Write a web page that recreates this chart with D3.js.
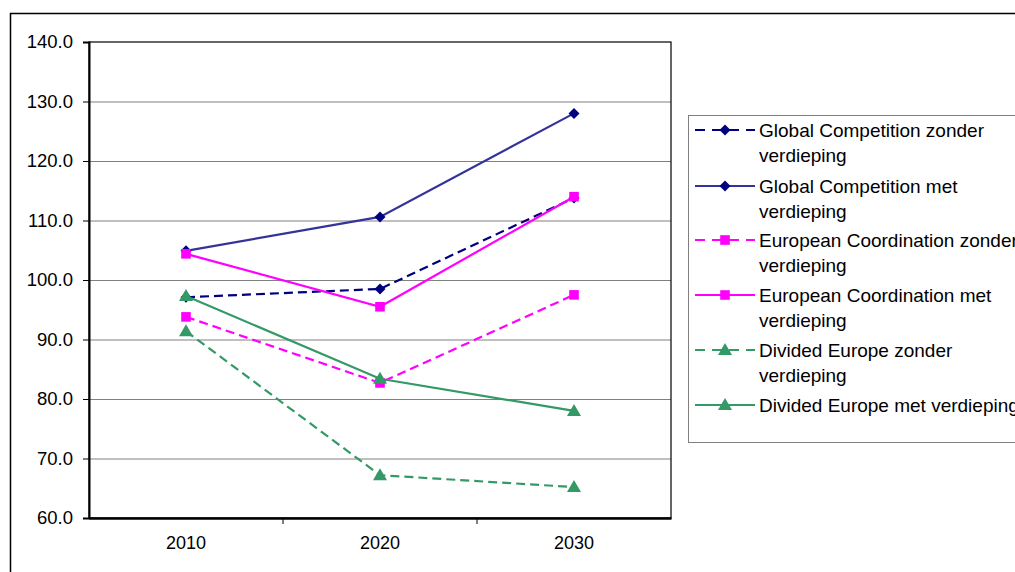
<!DOCTYPE html>
<html><head><meta charset="utf-8">
<script src="https://cdn.jsdelivr.net/npm/d3@7"></script>
<style>body{margin:0;background:#fff}svg{display:block}text{font-family:"Liberation Sans",Arial,sans-serif}</style>
</head><body><svg id="c" width="1015" height="572"></svg>
<script>
const categories = ["2010","2020","2030"];
const yTicks = [60,70,80,90,100,110,120,130,140];
const seriesNames = ["Global Competition zonder verdieping","Global Competition met verdieping","European Coordination zonder verdieping","European Coordination met verdieping","Divided Europe zonder verdieping","Divided Europe met verdieping"];
const legendLines = [["Global Competition zonder","verdieping"],["Global Competition met","verdieping"],["European Coordination zonder","verdieping"],["European Coordination met","verdieping"],["Divided Europe zonder","verdieping"],["Divided Europe met verdieping"]];
const gcZonder = [97.1, 98.5, 113.8];
const gcMet = [104.9, 110.6, 128.0];
const ecZonder = [93.8, 82.7, 97.5];
const ecMet = [104.4, 95.5, 114.0];
const deZonder = [91.4, 67.2, 65.2];
const deMet = [97.3, 83.4, 78.0];
const seriesValues = [gcZonder, gcMet, ecZonder, ecMet, deZonder, deMet];
const lineColors = ["#000080","#333399","#ff00ff","#ff00ff","#339966","#339966"];
const markerColors = ["#000080","#000080","#ff00ff","#ff00ff","#339966","#339966"];
const markers = ["diamond","diamond","square","square","triangle","triangle"];
const dashed = [true,false,true,false,true,false];

const svg = d3.select("#c");
// outer frame
svg.append("rect").attr("x",10.5).attr("y",13.5).attr("width",1100).attr("height",700)
  .attr("fill","none").attr("stroke","#000").attr("stroke-width",1.5);

const L=89,R=671,T=42,B=518;
const x = d3.scaleBand().domain(categories).range([L,R]);
const y = d3.scaleLinear().domain([60,140]).range([B,T]);

// gridlines
svg.append("g").selectAll("line").data(yTicks.filter(t=>t>60&&t<140)).join("line")
  .attr("x1",L).attr("x2",R).attr("y1",d=>y(d)+0.5).attr("y2",d=>y(d)+0.5)
  .attr("stroke","#808080").attr("stroke-width",1);

// plot border
svg.append("rect").attr("x",L).attr("y",T).attr("width",R-L).attr("height",B-T)
  .attr("fill","none").attr("stroke","#000").attr("stroke-width",1.2);

// y axis
const ya = svg.append("g").attr("transform",`translate(${L},0)`)
  .call(d3.axisLeft(y).tickValues(yTicks).tickFormat(d3.format(".1f")).tickSize(6).tickPadding(10));
ya.select(".domain").attr("stroke","#000").attr("stroke-width",2);
ya.selectAll(".tick line").attr("stroke","#000");
ya.selectAll("text").attr("font-size",18.5).attr("fill","#000").style("font-family","Liberation Sans, Arial, sans-serif");

// x axis
const xa = svg.append("g").attr("transform",`translate(0,${B})`)
  .call(d3.axisBottom(x).tickSize(0).tickPadding(18));
xa.select(".domain").attr("stroke","#000").attr("stroke-width",2.5);
xa.selectAll("text").attr("font-size",18).attr("fill","#000").style("font-family","Liberation Sans, Arial, sans-serif");
// category boundary ticks
svg.append("g").selectAll("line").data(categories.slice(1)).join("line")
  .attr("x1",d=>x(d)).attr("x2",d=>x(d)).attr("y1",B).attr("y2",B+6).attr("stroke","#000");

function markerPath(type){
  if(type==="diamond") return "M0,-5.5L5.5,0L0,5.5L-5.5,0Z";
  if(type==="square") return "M-4.8,-4.8H4.8V4.8H-4.8Z";
  return "M0,-7L7,5H-7Z";
}

const line = d3.line().x((d,i)=>x(categories[i])+x.bandwidth()/2).y(d=>y(d));
seriesValues.forEach((vals,si)=>{
  svg.append("path").attr("d",line(vals)).attr("fill","none")
    .attr("stroke",lineColors[si]).attr("stroke-width",2.2)
    .attr("stroke-dasharray",dashed[si]?"9,5":null);
});
seriesValues.forEach((vals,si)=>{
  svg.append("g").selectAll("path").data(vals).join("path")
    .attr("transform",(d,i)=>`translate(${x(categories[i])+x.bandwidth()/2},${y(d)})`)
    .attr("d",markerPath(markers[si]))
    .attr("fill",markerColors[si]);
});

// legend
svg.append("rect").attr("x",688.5).attr("y",115.5).attr("width",400).attr("height",327)
  .attr("fill","#fff").attr("stroke","#808080").attr("stroke-width",1);
const rowY = [130,186,240,295,350,405];
seriesNames.forEach((n,si)=>{
  const g = svg.append("g").attr("transform",`translate(0,${rowY[si]})`);
  g.append("line").attr("x1",695).attr("x2",755).attr("y1",0).attr("y2",0)
    .attr("stroke",lineColors[si]).attr("stroke-width",2.2)
    .attr("stroke-dasharray",dashed[si]?"10,7":null);
  g.append("path").attr("transform","translate(725,0)")
    .attr("d",markerPath(markers[si])).attr("fill",markerColors[si]);
  const t = g.append("text").attr("x",759).attr("y",7).attr("font-size",19).attr("fill","#000");
  legendLines[si].forEach((s,k)=>{
    t.append("tspan").attr("x",759).attr("dy",k===0?0:24.5).text(s);
  });
});
</script></body></html>
